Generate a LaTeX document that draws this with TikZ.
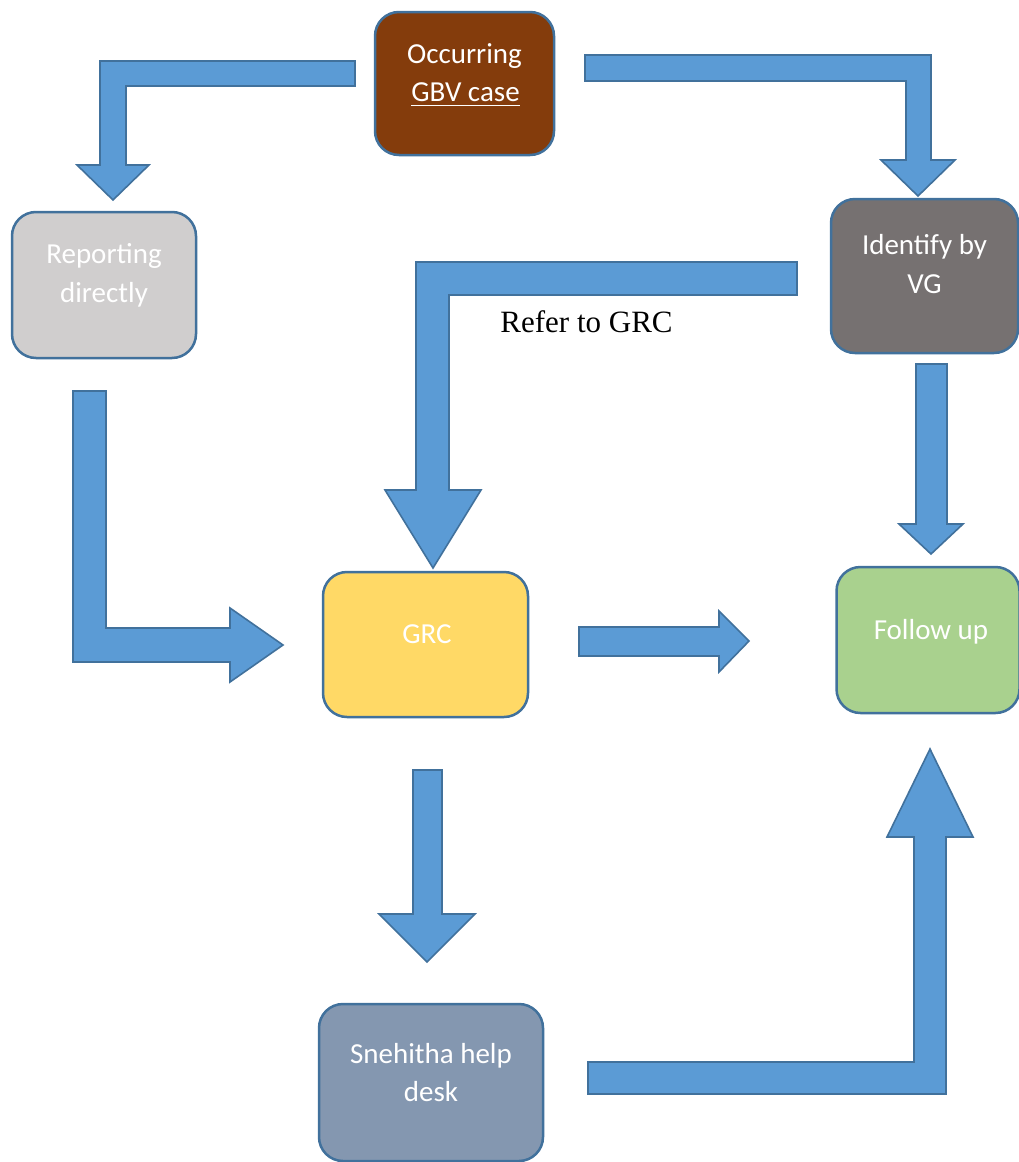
\documentclass[tikz,border=0pt]{standalone}
\usepackage{fontspec}
\newfontfamily\calib{Carlito}
\newfontfamily\tnr{Liberation Serif}
\definecolor{arrowfill}{HTML}{5B9BD5}
\definecolor{edgeblue}{HTML}{41719C}
\definecolor{brownfill}{HTML}{843C0C}
\definecolor{lightgrayfill}{HTML}{D0CECE}
\definecolor{darkgrayfill}{HTML}{767171}
\definecolor{yellowfill}{HTML}{FFD966}
\definecolor{greenfill}{HTML}{A9D18E}
\definecolor{slatefill}{HTML}{8497B0}
\begin{document}
\begin{tikzpicture}[x=1pt,y=-1pt,
  box/.style={draw=edgeblue, line width=2.5pt, rounded corners=24pt, inner sep=0pt},
  blockarrow/.style={fill=arrowfill, draw=edgeblue, line width=1.6pt, line join=miter},
  boxtext/.style={text=white, inner sep=0pt, anchor=base, font=\calib\fontsize{29}{38}\selectfont},
  labeltext/.style={text=black, inner sep=0pt, anchor=base, font=\tnr\fontsize{31}{36}\selectfont}]
\useasboundingbox (0,0) rectangle (1019,1162);
\fill[white] (0,0) rectangle (1019,1162);

% boxes
\node[box, fill=brownfill, minimum width=179pt, minimum height=143pt] (occ) at (464.5,83.5) {};
\node[box, fill=lightgrayfill, minimum width=184pt, minimum height=146pt] (rep) at (104,285) {};
\node[box, fill=darkgrayfill, minimum width=187pt, minimum height=154pt] (ident) at (924.5,276) {};
\node[box, fill=yellowfill, minimum width=205pt, minimum height=145pt] (grc) at (425.5,644.5) {};
\node[box, fill=greenfill, minimum width=183pt, minimum height=146pt] (follow) at (928,640) {};
\node[box, fill=slatefill, minimum width=224pt, minimum height=157pt] (sneh) at (431,1082.5) {};

% texts
\node[boxtext] (occ1) at (464.5,63) {Occurring};
\node[boxtext] (occ2) at (465.5,101) {GBV case};
\draw[white, line width=1.8pt] ([yshift=-4.5pt]occ2.base west) -- ([yshift=-4.5pt]occ2.base east);
\node[boxtext] (rep1) at (104,263) {Reporting};
\node[boxtext] (rep2) at (104,302) {directly};
\node[boxtext] (ident1) at (924.5,254) {Identify by};
\node[boxtext] (ident2) at (924.5,293) {VG};
\node[boxtext] (grct) at (427,643) {GRC};
\node[boxtext] (followt) at (931,639) {Follow up};
\node[boxtext] (sneh1) at (431,1063) {Snehitha help};
\node[boxtext] (sneh2) at (431,1101) {desk};
\node[labeltext] (refer) at (586.5,332) {Refer to GRC};

% block arrows
% Occurring -> Reporting
\draw[blockarrow] (355,61) -- (100,61) -- (100,165) -- (77,165) -- (113,200) -- (149,165) -- (126,165) -- (126,86) -- (355,86) -- cycle;
% Occurring -> Identify
\draw[blockarrow] (585,55) -- (931,55) -- (931,160) -- (955,160) -- (918,196) -- (881,160) -- (906,160) -- (906,81) -- (585,81) -- cycle;
% Identify -> GRC (Refer to GRC)
\draw[blockarrow] (797,262) -- (416,262) -- (416,490) -- (385,490) -- (433,568) -- (481,490) -- (449,490) -- (449,295) -- (797,295) -- cycle;
% Reporting -> GRC
\draw[blockarrow] (73,391) -- (73,662) -- (230,662) -- (230,682) -- (283,645) -- (230,608) -- (230,628) -- (106,628) -- (106,391) -- cycle;
% GRC -> Follow up
\draw[blockarrow] (579,627) -- (719,627) -- (719,611) -- (749,641) -- (719,672) -- (719,656) -- (579,656) -- cycle;
% Identify -> Follow up
\draw[blockarrow] (916,364) -- (916,524) -- (899,524) -- (931,554) -- (963,524) -- (947,524) -- (947,364) -- cycle;
% GRC -> Snehitha
\draw[blockarrow] (413,770) -- (413,914) -- (379,914) -- (427,962) -- (475,914) -- (442,914) -- (442,770) -- cycle;
% Snehitha -> Follow up
\draw[blockarrow] (588,1062) -- (914,1062) -- (914,837) -- (887,837) -- (930,749) -- (973,837) -- (946,837) -- (946,1094) -- (588,1094) -- cycle;
\end{tikzpicture}
\end{document}
